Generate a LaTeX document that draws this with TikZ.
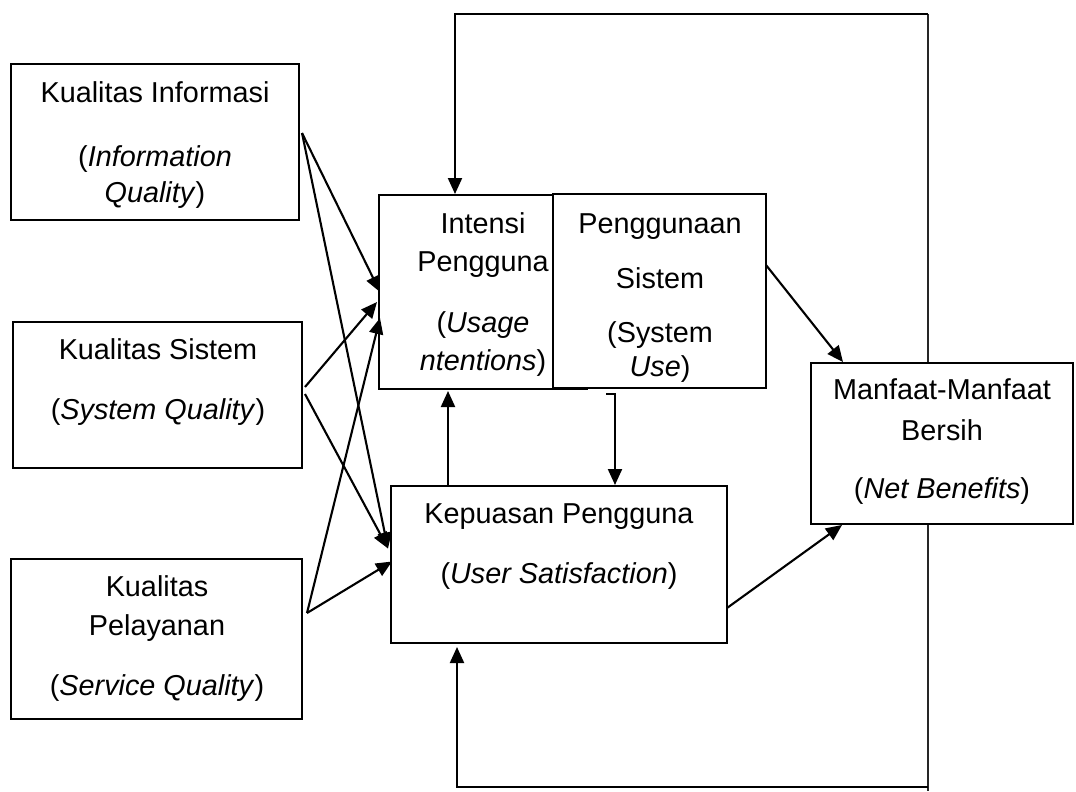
\documentclass[tikz,border=0pt]{standalone}
\usepackage{fontspec}
\setmainfont{Liberation Sans}
\usetikzlibrary{arrows.meta}
\tikzset{
  box/.style={draw=black, line width=1.9pt, fill=white, inner sep=0pt, outer sep=0pt},
  txt/.style={anchor=base, inner sep=0pt, font=\fontsize{28.8}{34}\selectfont},
  arr/.style={draw=black, line width=2.1pt, -{Triangle[length=16pt,width=14pt]}},
  thin/.style={draw=black!85, line width=1.2pt}
}
\begin{document}
\begin{tikzpicture}[x=1pt,y=-1pt]
\path[fill=white] (0,0) rectangle (1076,792);
\useasboundingbox (0,0) rectangle (1076,792);

% feedback frame (vertical line behind the net benefits box)
\coordinate (tr) at (928,14);
\coordinate (br) at (928,791);
\coordinate (bl) at (928,787);
\draw[thin] (tr) -- (br);

% boxes
\node[box, minimum width=288pt, minimum height=156pt] (ki) at (155,142) {};
\node[box, minimum width=289pt, minimum height=146pt] (ks) at (157.5,395) {};
\node[box, minimum width=291pt, minimum height=160pt] (kp) at (156.5,639) {};
\node[box, minimum width=208pt, minimum height=194pt] (int) at (483,292) {};
\node[box, minimum width=213pt, minimum height=194pt] (pen) at (659.5,291) {};
\node[box, minimum width=336pt, minimum height=157pt] (kep) at (559,564.5) {};
\node[box, minimum width=262pt, minimum height=161pt] (nb) at (942,443.5) {};

% texts
\node[txt] (ki1) at (155,102) {Kualitas Informasi};
\node[txt] (ki2) at (155,166) {(\textit{Information}};
\node[txt] (ki3) at (155,202) {\textit{Quality})};

\node[txt] (ks1) at (158,359) {Kualitas Sistem};
\node[txt] (ks2) at (158,419) {(\textit{System Quality})};

\node[txt] (kp1) at (157,596) {Kualitas};
\node[txt] (kp2) at (157,635) {Pelayanan};
\node[txt] (kp3) at (157,695) {(\textit{Service Quality})};

\node[txt] (int1) at (483,233) {Intensi};
\node[txt] (int2) at (483,271) {Pengguna};
\node[txt] (int3) at (483,332) {(\textit{Usage}};
\node[txt] (int4) at (483,370) {\textit{ntentions})};

\node[txt] (pen1) at (660,233) {Penggunaan};
\node[txt] (pen2) at (660,288) {Sistem};
\node[txt] (pen3) at (660,342) {(System};
\node[txt] (pen4) at (660,376) {\textit{Use})};

\node[txt] (kep1) at (559,523) {Kepuasan Pengguna};
\node[txt] (kep2) at (559,583) {(\textit{User Satisfaction})};

\node[txt] (nb1) at (942,399) {Manfaat-Manfaat};
\node[txt] (nb2) at (942,440) {Bersih};
\node[txt] (nb3) at (942,498) {(\textit{Net Benefits})};

% arrows from the quality boxes
\draw[arr] ([shift={(3,-9)}]ki.east) -- ([shift={(1,0)}]int.west);
\draw[arr] ([shift={(3,-9)}]ki.east) -- ([shift={(-3,-16)}]kep.west);
\draw[arr] ([shift={(3,-8)}]ks.east) -- ([shift={(-2,10)}]int.west);
\draw[arr] ([shift={(3,-1)}]ks.east) -- ([shift={(-3,-16)}]kep.west);
\draw[arr] ([shift={(5,-26)}]kp.east) -- ([shift={(1,26)}]int.west);
\draw[arr] ([shift={(5,-26)}]kp.east) -- ([shift={(1,-3)}]kep.west);

% to net benefits
\draw[arr] ([shift={(0,-26)}]pen.east) -- ([shift={(32,-1)}]nb.north west);
\draw[arr] ([shift={(0,43.5)}]kep.east) -- ([shift={(31,1)}]nb.south west);

% between intention/use and satisfaction
\draw[arr] ([shift={(66,0)}]kep.north west) -- ++(-9,0) -- ([shift={(69,2)}]int.south west);
\draw[arr] ([shift={(53,6)}]pen.south west) -- ++(9,0) -- ([shift={(224,-1)}]kep.north west);

% feedback loops
\draw[arr] (tr) -| ([shift={(76,-1)}]int.north west);
\draw[arr] (bl) -| ([shift={(66,4)}]kep.south west);
\end{tikzpicture}
\end{document}
